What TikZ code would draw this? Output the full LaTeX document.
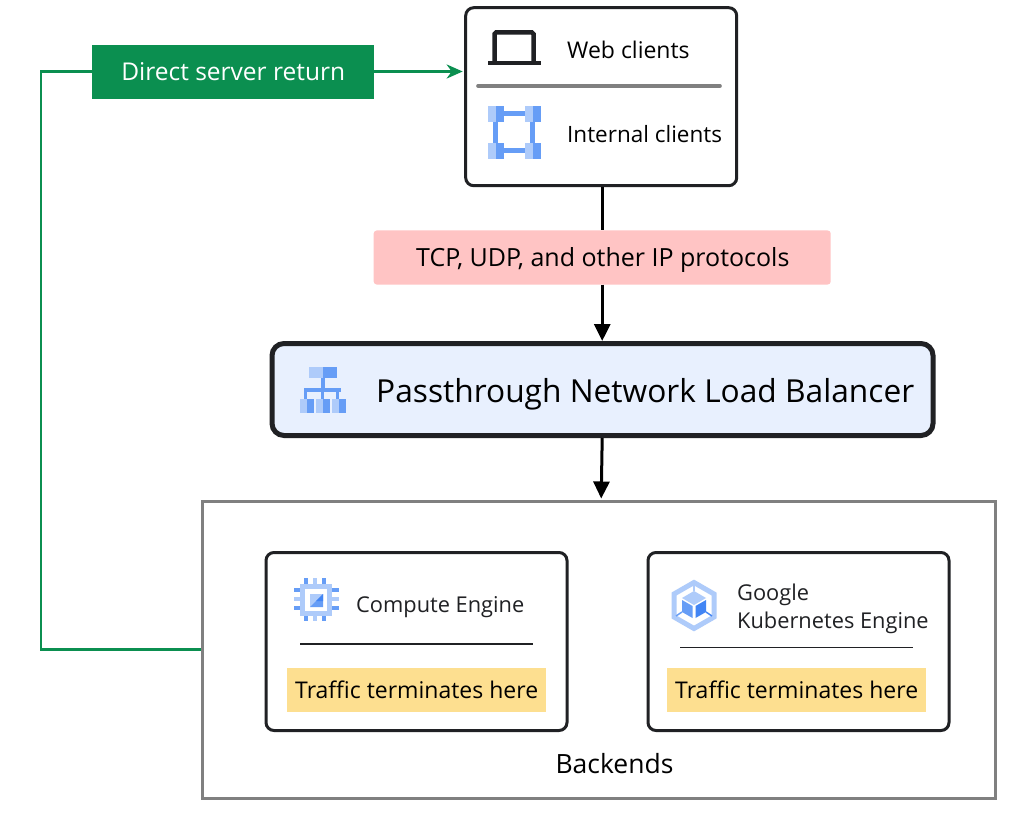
\documentclass[tikz,border=0pt]{standalone}
\usepackage{fontspec}
\setmainfont{Open Sans}
\usetikzlibrary{arrows.meta,calc}
\definecolor{inkdark}{HTML}{202124}
\definecolor{gblue}{HTML}{669DF6}
\definecolor{gbluemid}{HTML}{4285F4}
\definecolor{gbluelight}{HTML}{AECBFA}
\definecolor{lbfill}{HTML}{E8F0FE}
\definecolor{dsrgreen}{HTML}{0B8F50}
\definecolor{pinkfill}{HTML}{FFC4C4}
\definecolor{yellowfill}{HTML}{FDDF90}
\definecolor{framegray}{HTML}{808080}
\tikzset{
  x=1pt,y=-1pt,
  box/.style={draw=inkdark,line width=3pt,rounded corners=8pt,fill=white,inner sep=0pt,anchor=north west},
  txt/.style={inner sep=0pt,anchor=west,text=black},
  flow/.style={draw=black,line width=3pt,-{Triangle[length=17pt,width=16pt]}},
  plain/.style={draw=black,line width=3pt},
  green/.style={draw=dsrgreen,line width=2.8pt},
  greenarrow/.style={green,-{Stealth[length=16pt,width=14pt,inset=5pt]}},
  rule/.style={draw=inkdark,line width=1.2pt},
  tagbox/.style={fill=yellowfill,minimum width=259pt,minimum height=44pt,inner sep=0pt,font=\fontsize{23}{27}\selectfont,text=black},
}
\begin{document}
\begin{tikzpicture}
\useasboundingbox (0,0) rectangle (1028,813);
\fill[white] (0,0) rectangle (1028,813);

% Clients box
\node[box,minimum width=271pt,minimum height=178pt] (clients) at (464.2,6.2) {};
\node[txt,font=\fontsize{23}{26}\selectfont] (web) at (567,49.5) {Web clients};
\node[txt,font=\fontsize{22.5}{26}\selectfont] (internal) at (567,134) {Internal clients};
\coordinate (divL) at (478,86);
\coordinate (divR) at (720,86);
\draw[draw=framegray,line width=3.6pt,line cap=round] (divL) -- (divR);
% laptop
\draw[inkdark,line width=4.5pt,rounded corners=1.5pt] (494.5,61) -- (494.5,32.5) -- (533.5,32.5) -- (533.5,61);
\fill[inkdark] (488,61) rectangle (541,65.5);
% internal icon
\foreach \px/\py in {488/106,525/106,488/143,525/143}{
  \fill[gbluelight] (\px,\py) rectangle (\px+8,\py+16);
  \fill[gblue] (\px+8,\py) rectangle (\px+16,\py+16);
}
\fill[gblue] (504,111) rectangle (525,116);
\fill[gblue] (504,148) rectangle (525,153);
\fill[gblue] (493,122) rectangle (498,143);
\fill[gblue] (530,122) rectangle (535,143);

% Direct server return
\node[fill=dsrgreen,minimum width=282pt,minimum height=54pt,inner sep=0pt,anchor=north west,text=white,font=\fontsize{24.5}{28}\selectfont] (dsr) at (92,44.5) {\raisebox{1pt}{Direct server return}};

% Protocol label
\node[fill=pinkfill,rounded corners=3pt,minimum width=457pt,minimum height=54pt,inner sep=0pt,anchor=north west,text=black,font=\fontsize{25}{28}\selectfont] (proto) at (373.5,230.3) {};
\node[txt,font=\fontsize{25}{28}\selectfont] (prototext) at (416,260.5) {TCP, UDP, and other IP protocols};

% Load balancer
\node[box,draw=inkdark,line width=5pt,rounded corners=12pt,fill=lbfill,minimum width=661pt,minimum height=92pt] (lb) at (269.5,341) {};
\node[txt,font=\fontsize{31.7}{35}\selectfont] (lbtext) at (376,394) {Passthrough Network Load Balancer};
% lb icon
\fill[gbluelight] (309,367) rectangle (323,378);
\fill[gblue] (323,367) rectangle (337,378);
\fill[gblue] (321,378) rectangle (325,389);
\fill[gblue] (304,388) rectangle (341,392);
\foreach \px in {304,320.5,336}{\fill[gblue] (\px,392) rectangle (\px+3,399);}
\foreach \px in {300,316,331.5}{
  \fill[gbluelight] (\px,399) rectangle (\px+7,413);
  \fill[gblue] (\px+7,399) rectangle (\px+14,413);
}

% Backends
\node[draw=framegray,line width=3pt,fill=white,minimum width=793pt,minimum height=297pt,inner sep=0pt,anchor=north west] (backends) at (200.5,499.5) {};
\node[inner sep=0pt,text=black,font=\fontsize{26.5}{30}\selectfont] (backlabel) at (614.5,764) {Backends};

% Compute Engine card
\node[box,minimum width=301pt,minimum height=178pt] (ce) at (264.5,551) {};
\node[txt,text=inkdark,font=\fontsize{21.8}{25}\selectfont] (cetext) at (356,607) {Compute Engine};
\coordinate (ceruleL) at (300,644);
\coordinate (ceruleR) at (533,644);
\draw[rule] (ceruleL) -- (ceruleR);
\node[tagbox,anchor=north west] (cetag) at (287,668) {Traffic terminates here};
% chip icon
\fill[gbluelight] (300,584) rectangle (332,616);
\fill[white] (305,589) rectangle (327,611);
\fill[gbluelight] (310,594) rectangle (323,607);
\fill[gblue] (310,607) -- (323,607) -- (323,594) -- cycle;
\fill[gbluemid] (316,601) -- (323,594) -- (323,601) -- cycle;
\foreach \q/\c in {306/gblue,315/gbluelight,324/gblue}{
  \fill[\c] (\q-2,578) rectangle (\q+2,584);
  \fill[\c] (\q-2,616) rectangle (\q+2,621);
}
\foreach \q/\c in {590/gblue,599/gbluelight,608/gblue}{
  \fill[\c] (294,\q-2) rectangle (300,\q+2);
  \fill[\c] (332,\q-2) rectangle (339,\q+2);
}

% GKE card
\node[box,minimum width=301pt,minimum height=178pt] (gke) at (646.5,551) {};
\node[txt,text=inkdark,font=\fontsize{21.8}{25}\selectfont] (gketext1) at (737,594.5) {Google};
\node[txt,text=inkdark,font=\fontsize{21.8}{25}\selectfont] (gketext2) at (737,622.5) {Kubernetes Engine};
\coordinate (gkeruleL) at (680,647.5);
\coordinate (gkeruleR) at (913,647.5);
\draw[rule] (gkeruleL) -- (gkeruleR);
\node[tagbox,anchor=north west] (gketag) at (667,668) {Traffic terminates here};
% hex icon
\draw[gbluelight,line width=5pt,miter limit=10] (694,582.5) -- (714,594) -- (714,617) -- (694,628.5) -- (674,617) -- (674,594) -- cycle;
\fill[gbluelight] (694,591) -- (706,598) -- (694,605) -- (682,598) -- cycle;
\fill[gblue] (682,600) -- (692.5,606) -- (692.5,618) -- (682,612) -- cycle;
\fill[gbluemid] (706,600) -- (695.5,606) -- (695.5,618) -- (706,612) -- cycle;
\draw[gbluelight,line width=1.5pt] (694,584) -- (694,591);
\draw[gblue,line width=1.5pt] (676,616) -- (682,612);
\draw[gbluemid,line width=1.5pt] (712,616) -- (706,612);

% Connectors
\draw[plain] (clients.south -| proto.north) -- (proto.north);
\draw[flow] (proto.south) -- (lb.north -| proto.south);
\draw[flow] (lb.south -| proto.south) -- ($(backends.north -| proto.south)+(-1,-1)$);
\coordinate (greenleft) at (41,71.5);
\draw[green,line join=miter] (dsr.west |- greenleft) -- (greenleft) -- (greenleft |- 0,649.5) -- (backends.west |- 0,649.5);
\draw[greenarrow] (dsr.east |- greenleft) -- ($(clients.west |- greenleft)+(-1.5,0)$);
\end{tikzpicture}
\end{document}
